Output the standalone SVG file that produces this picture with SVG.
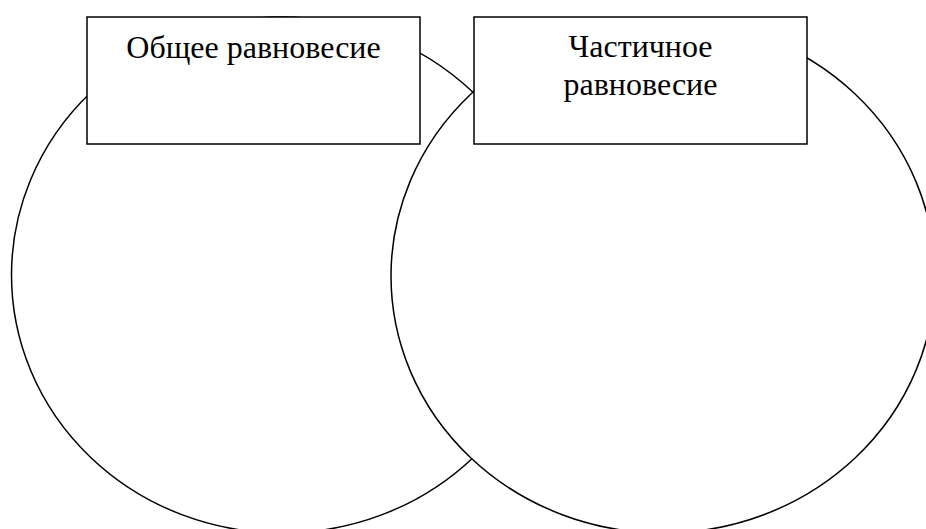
<svg xmlns="http://www.w3.org/2000/svg" width="926" height="529" viewBox="0 0 926 529">
<style>
.sh{fill:#fff;stroke:#000;stroke-width:1.5}
.t{font-family:"Liberation Serif","Times New Roman",serif;font-size:32px;fill:#000;text-anchor:middle}
</style>
<rect width="926" height="529" fill="#fff"/>
<g id="circle-left"><ellipse class="sh" cx="282" cy="275" rx="270.5" ry="258"/></g>
<g id="circle-right"><ellipse class="sh" cx="663" cy="276" rx="272" ry="257"/></g>
<g id="connectors"></g>
<g id="box-general">
<rect class="sh" x="87" y="17" width="333" height="127"/>
<text class="t" x="253.5" y="58">Общее равновесие</text>
</g>
<g id="box-partial">
<rect class="sh" x="474" y="17" width="333" height="127"/>
<text class="t" x="640.5" y="57">Частичное</text>
<text class="t" x="640.5" y="95">равновесие</text>
</g>
</svg>
